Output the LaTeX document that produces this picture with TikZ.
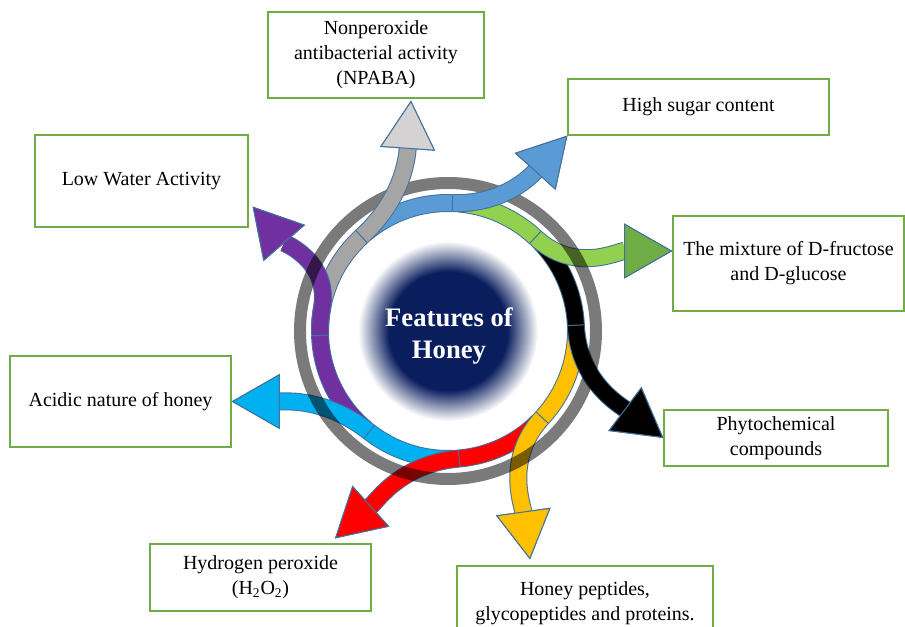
\documentclass[tikz,border=0pt]{standalone}
\usepackage{fontspec}
\setmainfont{Liberation Serif}
\usetikzlibrary{arrows.meta}

\definecolor{edgeblue}{RGB}{65,113,156}
\definecolor{boxgreen}{RGB}{112,173,71}
\definecolor{glownavy}{RGB}{10,30,94}
\definecolor{hpurple}{RGB}{112,48,160}
\definecolor{hgray}{RGB}{165,165,165}
\definecolor{hgrayhead}{RGB}{212,210,210}
\definecolor{hblue}{RGB}{91,155,213}
\definecolor{hgreen}{RGB}{146,208,80}
\definecolor{hgreenhead}{RGB}{112,173,71}
\definecolor{hblack}{RGB}{0,0,0}
\definecolor{hyellow}{RGB}{255,192,0}
\definecolor{hred}{RGB}{255,0,0}
\definecolor{hcyan}{RGB}{0,176,240}

\pgfdeclareradialshading{honeyglow}{\pgfpoint{0bp}{0bp}}{color(0bp)=(glownavy); color(16.5bp)=(glownavy); color(25bp)=(white); color(50bp)=(white)}

\tikzset{
  feature/.style={draw=boxgreen, line width=0.7pt, fill=white, align=center, inner sep=2pt, font=\fontsize{12}{15}\selectfont},
  rim/.style={draw=edgeblue, line width=10.8pt},
  shaft/.style={draw=#1, line width=9.6pt},
  head/.style={-{Triangle[width=33pt, length=29pt, line width=0.6pt, color=edgeblue, fill=#1]}},
  joint/.style={draw=edgeblue, line width=0.6pt},
}

% shaft with thin outline, then the same with a head
\newcommand{\featureband}[2]{%
  \draw[rim] #2;
  \draw[shaft=#1] #2;}
\newcommand{\featurearrow}[3]{%
  \draw[rim, head=#2] #3;
  \draw[shaft=#1, head=#2] #3;}

\begin{document}
\begin{tikzpicture}[x=0.6pt, y=0.6pt]
  \useasboundingbox (0,0) rectangle (905,627);

  % boxes
  \node[feature, minimum width=129.6pt, minimum height=51.6pt] (npaba) at (376,572) {Nonperoxide\\antibacterial activity\\(NPABA)};
  \node[feature, minimum width=156.6pt, minimum height=33.6pt] (sugar) at (698.5,520) {High sugar content};
  \node[feature, minimum width=138.6pt, minimum height=57pt] (mixture) at (788.5,363.5) {The mixture of D-fructose\\and D-glucose};
  \node[feature, minimum width=127.8pt, minimum height=55.2pt] (lowwater) at (141.5,446) {Low Water Activity};
  \node[feature, minimum width=132.6pt, minimum height=54.6pt] (acidic) at (120.5,225.5) {Acidic nature of honey};
  \node[feature, minimum width=132.6pt, minimum height=40.2pt] (hydro) at (260.5,49.5) {Hydrogen peroxide\\(H\textsubscript{2}O\textsubscript{2})};
  \node[feature, minimum width=134.4pt, minimum height=33.6pt] (phyto) at (776,189) {Phytochemical\\compounds};
  \node[feature, minimum width=153.6pt, minimum height=44.4pt] (peptides) at (585,24) {Honey peptides,\\glycopeptides and proteins.};

  % centre
  \coordinate (hub) at (448,296);
  \shade[shading=honeyglow] (hub) circle[radius=90];
  \node[font=\fontsize{16}{19}\selectfont\bfseries, text=white, align=center] (title) at (449,291) {Features of\\Honey};

  % arrow ends
  \coordinate (graytip) at ([xshift=21pt, yshift=-1.2pt]npaba.south);
  \coordinate (greentip) at ([yshift=7.5pt]mixture.west);
  \coordinate (yellowtip) at ([xshift=-33pt, yshift=3.6pt]peptides.north);
  \coordinate (redtip) at ([xshift=44.7pt, yshift=3pt]hydro.north);
  \coordinate (purpletip) at ([xshift=2.4pt, yshift=12.6pt]lowwater.south east);

  % arrows round the circle
  \featureband{hpurple}{([shift={(-130:128)}]hub) arc[start angle=-130, end angle=-178, radius=128]}
  \featurearrow{hcyan}{hcyan}{([shift={(-88:128)}]hub) arc[start angle=-88, end angle=-128, radius=128] to[out=142, in=0] (acidic.east)}
  \draw[joint] ([shift={(-128:120)}]hub) -- ([shift={(-128:136)}]hub);
  \featurearrow{hred}{hred}{([shift={(-45:128)}]hub) arc[start angle=-45, end angle=-85, radius=128] to[out=-175, in=42] (redtip)}
  \draw[joint] ([shift={(-85:120)}]hub) -- ([shift={(-85:136)}]hub);
  \featurearrow{hyellow}{hyellow}{([shift={(0:128)}]hub) arc[start angle=0, end angle=-42.6, radius=128] to[out=-132.6, in=98] (yellowtip)}
  \draw[joint] ([shift={(-42.6:120)}]hub) -- ([shift={(-42.6:136)}]hub);
  \featurearrow{hblack}{hblack}{([shift={(45:128)}]hub) arc[start angle=45, end angle=2.6, radius=128] to[out=-87.4, in=143] (phyto.west)}
  \draw[joint] ([shift={(2.6:120)}]hub) -- ([shift={(2.6:136)}]hub);
  \featurearrow{hgreen}{hgreenhead}{([shift={(85:128)}]hub) arc[start angle=85, end angle=47, radius=128] to[out=-43, in=180] (greentip)}
  \draw[joint] ([shift={(47:120)}]hub) -- ([shift={(47:136)}]hub);
  \featureband{hblue}{([shift={(130:128)}]hub) arc[start angle=130, end angle=88, radius=128]}
  \featureband{hgray}{([shift={(178:128)}]hub) arc[start angle=178, end angle=132.5, radius=128]}
  \featurearrow{hpurple}{hpurple}{([shift={(-178:128)}]hub) arc[start angle=-178, end angle=-190, radius=128] to[out=80, in=-49] (purpletip)}
  \draw[joint] ([shift={(-178:120)}]hub) -- ([shift={(-178:136)}]hub);

  % outer ring
  \draw[black, draw opacity=0.52, line width=7.2pt] (hub) circle[radius=148];

  % exits lying over the ring
  \featurearrow{hblue}{hblue}{([shift={(88:128)}]hub) to[out=-2, in=-132] (sugar.south west)}
  \draw[joint] ([shift={(88:120)}]hub) -- ([shift={(88:136)}]hub);
  \featurearrow{hgray}{hgrayhead}{([shift={(132.5:128)}]hub) to[out=42.5, in=-94] (graytip)}
  \draw[joint] ([shift={(132.5:120)}]hub) -- ([shift={(132.5:136)}]hub);
\end{tikzpicture}
\end{document}
